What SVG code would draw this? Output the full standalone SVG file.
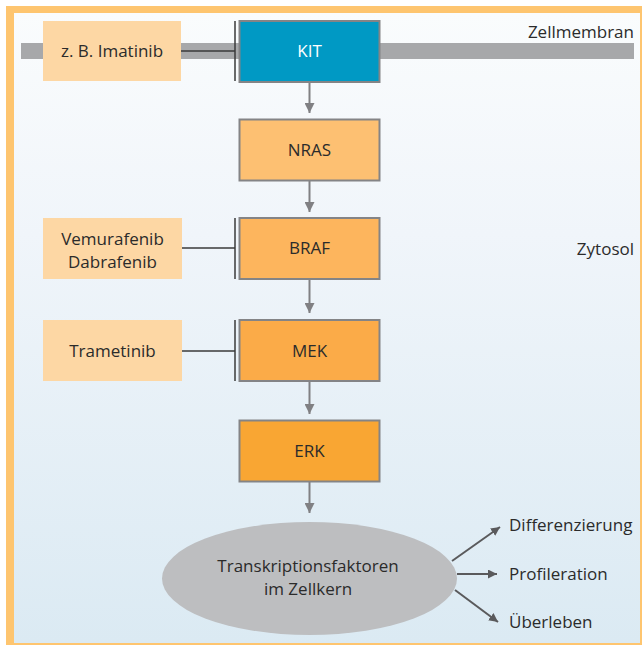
<svg xmlns="http://www.w3.org/2000/svg" width="643" height="646" viewBox="0 0 643 646">
<defs>
<linearGradient id="bg" x1="0" y1="0" x2="0" y2="1">
<stop offset="0" stop-color="#fafcfd"/>
<stop offset="0.35" stop-color="#f0f5fa"/>
<stop offset="1" stop-color="#dbeaf3"/>
</linearGradient>
<marker id="ah" markerUnits="userSpaceOnUse" markerWidth="10" markerHeight="10" refX="10" refY="5" orient="auto" viewBox="0 0 10 10">
<path d="M0,0 L10,5 L0,10 z" fill="#808083"/>
</marker>
<marker id="ahd" markerUnits="userSpaceOnUse" markerWidth="9" markerHeight="9" refX="9" refY="4.5" orient="auto" viewBox="0 0 9 9">
<path d="M0,0 L9,4.5 L0,9 z" fill="#5a5a5c"/>
</marker>
</defs>
<style>
text{font-family:"Open Sans","Liberation Sans",sans-serif;font-size:17px;fill:#2b2b2b}
.c{text-anchor:middle}
.r{text-anchor:end}
.box{stroke:#848486;stroke-width:2}
.drug{fill:#fdd7a4}
.inh{stroke:#3a3a3a;stroke-width:1.5;fill:none}
.arr{stroke:#808083;stroke-width:2;fill:none;marker-end:url(#ah)}
.out{stroke:#5a5a5c;stroke-width:2;fill:none;marker-end:url(#ahd)}
</style>
<rect x="0" y="0" width="643" height="646" fill="#ffffff"/>
<rect id="background" x="14" y="13" width="627" height="630" fill="url(#bg)"/>
<g id="frame" fill="#fec56f">
<rect x="6" y="6" width="8" height="639"/>
<rect x="6" y="6" width="636" height="7"/>
<rect x="640" y="6" width="2" height="639"/>
<rect x="6" y="643" width="636" height="2"/>
</g>
<g id="membrane">
<rect x="21" y="43" width="613" height="16" fill="#a7a8aa"/>
<text class="r" x="634" y="38">Zellmembran</text>
</g>
<text id="zytosol" class="r" x="634" y="255">Zytosol</text>

<g id="connectors">
<line class="inh" x1="181" y1="51" x2="235" y2="51"/>
<line class="inh" x1="235" y1="21" x2="235" y2="81"/>
<line class="inh" x1="182" y1="248" x2="235" y2="248"/>
<line class="inh" x1="235" y1="218" x2="235" y2="279"/>
<line class="inh" x1="182" y1="351" x2="235" y2="351"/>
<line class="inh" x1="235" y1="320" x2="235" y2="381"/>
<line class="arr" x1="309.5" y1="82" x2="309.5" y2="113"/>
<line class="arr" x1="309.5" y1="181" x2="309.5" y2="212"/>
<line class="arr" x1="309.5" y1="279" x2="309.5" y2="313"/>
<line class="arr" x1="309.5" y1="381" x2="309.5" y2="414"/>
<line class="arr" x1="309.5" y1="481.5" x2="309.5" y2="513"/>
<line class="out" x1="452" y1="561" x2="500" y2="527"/>
<line class="out" x1="457" y1="574" x2="497" y2="574"/>
<line class="out" x1="455" y1="590" x2="498" y2="622"/>
</g>

<g id="imatinib">
<rect class="drug" x="43" y="21" width="138" height="60"/>
<text class="c" x="112" y="57">z. B. Imatinib</text>
</g>
<g id="kit">
<rect class="box" x="239.5" y="21" width="140" height="61" fill="#0099c4"/>
<text class="c" x="309.5" y="57" style="fill:#ffffff">KIT</text>
</g>
<g id="nras">
<rect class="box" x="239.5" y="119.5" width="140" height="61" fill="#fdc072"/>
<text class="c" x="309.5" y="156">NRAS</text>
</g>
<g id="vemurafenib">
<rect class="drug" x="43" y="218" width="139" height="61"/>
<text class="c" x="112.5" y="245">Vemurafenib</text>
<text class="c" x="112.5" y="268">Dabrafenib</text>
</g>
<g id="braf">
<rect class="box" x="239.5" y="218" width="140" height="61" fill="#fdb55d"/>
<text class="c" x="309.5" y="254">BRAF</text>
</g>
<g id="trametinib">
<rect class="drug" x="43" y="320" width="139" height="61"/>
<text class="c" x="112.5" y="357">Trametinib</text>
</g>
<g id="mek">
<rect class="box" x="239.5" y="320" width="140" height="61" fill="#fbab48"/>
<text class="c" x="309.5" y="357">MEK</text>
</g>
<g id="erk">
<rect class="box" x="239.5" y="420.5" width="140" height="61" fill="#f9a633"/>
<text class="c" x="309.5" y="457">ERK</text>
</g>
<g id="transkription">
<ellipse cx="309.5" cy="578.5" rx="147.5" ry="56.5" fill="#bdbec0"/>
<text class="c" x="308" y="572">Transkriptionsfaktoren</text>
<text class="c" x="308" y="595">im Zellkern</text>
</g>
<g id="outcomes">
<text x="509" y="531">Differenzierung</text>
<text x="509" y="580">Profileration</text>
<text x="509" y="628">Überleben</text>
</g>
</svg>
